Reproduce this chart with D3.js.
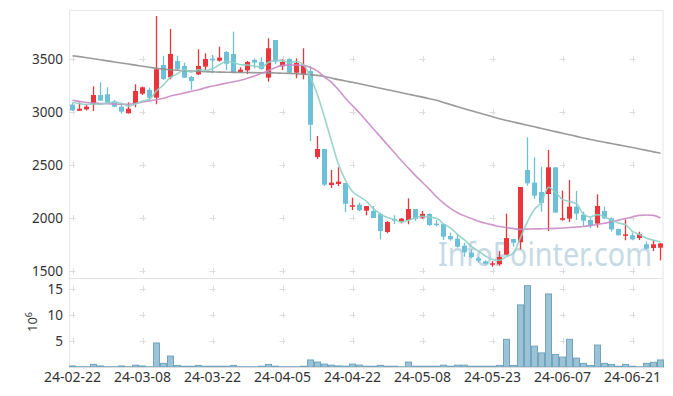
<!DOCTYPE html>
<html>
<head>
<meta charset="utf-8">
<script src="https://cdn.jsdelivr.net/npm/d3@7"></script>
<style>
  body { margin: 0; background: #fff; }
  svg text { font-family: "Noto Sans", "DejaVu Sans", sans-serif; }
</style>
</head>
<body>
<svg id="chart"></svg>
<script>
// trading days (yy-mm-dd)
const dates = [
  "24-02-22","24-02-23","24-02-26","24-02-27","24-02-28","24-02-29","24-03-04","24-03-05","24-03-06","24-03-07",
  "24-03-08","24-03-11","24-03-12","24-03-13","24-03-14","24-03-15","24-03-18","24-03-19","24-03-20","24-03-21",
  "24-03-22","24-03-25","24-03-26","24-03-27","24-03-28","24-03-29","24-04-01","24-04-02","24-04-03","24-04-04",
  "24-04-05","24-04-08","24-04-09","24-04-11","24-04-12","24-04-15","24-04-16","24-04-17","24-04-18","24-04-19",
  "24-04-22","24-04-23","24-04-24","24-04-25","24-04-26","24-04-29","24-04-30","24-05-02","24-05-03","24-05-07",
  "24-05-08","24-05-09","24-05-10","24-05-13","24-05-14","24-05-16","24-05-17","24-05-20","24-05-21","24-05-22",
  "24-05-23","24-05-24","24-05-27","24-05-28","24-05-29","24-05-30","24-05-31","24-06-03","24-06-04","24-06-05",
  "24-06-07","24-06-10","24-06-11","24-06-12","24-06-13","24-06-14","24-06-17","24-06-18","24-06-19","24-06-20",
  "24-06-21","24-06-24","24-06-25","24-06-26","24-06-27"
];

const opens = [
  3070,3012,3025,3073,3160,3167,3100,3050,2988,3082,
  3173,3208,3135,3443,3327,3481,3434,3330,3355,3428,
  3503,3484,3566,3547,3377,3393,3491,3472,3324,3679,
  3431,3500,3371,3355,3387,2575,2651,2311,2321,2330,
  2107,2126,2069,2066,2038,1868,1991,1969,1981,2085,
  2003,2038,1947,1943,1830,1805,1739,1673,1620,1591,
  1560,1563,1655,1802,1771,2453,2333,2245,2226,2478,
  1988,1994,2107,2031,1981,1947,2066,1997,1896,1837,
  1837,1811,1752,1717,1720
];
const highs = [
  3090,3091,3073,3242,3280,3233,3113,3073,3091,3261,
  3240,3230,3906,3530,3783,3531,3465,3340,3591,3553,
  3538,3616,3575,3758,3422,3481,3506,3516,3695,3679,
  3497,3506,3506,3601,3434,2774,2651,2453,2478,2330,
  2192,2145,2113,2113,2050,1972,2025,2000,2186,2085,
  2066,2045,1981,1943,1862,1849,1767,1705,1635,1601,
  1594,1689,2041,1805,2292,2761,2573,2484,2642,2478,
  2258,2358,2255,2060,2006,2223,2107,2006,1900,1988,
  1862,1871,1777,1792,1765
];
const lows = [
  3010,3010,3015,3010,3105,3085,3044,2984,2986,3044,
  3160,3113,3073,3302,3308,3396,3321,3208,3349,3396,
  3365,3475,3396,3368,3368,3358,3412,3400,3286,3450,
  3396,3365,3318,3308,2726,2557,2302,2283,2302,2054,
  2075,2066,2025,2000,1799,1856,1943,1950,1941,1972,
  1991,1925,1922,1792,1786,1720,1635,1620,1578,1560,
  1540,1550,1648,1729,1705,2305,2179,2060,1877,2051,
  1975,1962,1981,1925,1903,1909,1990,1871,1835,1790,
  1790,1792,1705,1689,1600
];
const closes = [
  3015,3030,3050,3160,3107,3091,3050,3003,3031,3198,
  3233,3135,3403,3311,3547,3406,3324,3292,3434,3500,
  3488,3513,3456,3374,3399,3472,3465,3406,3601,3475,
  3472,3371,3462,3443,2880,2651,2314,2333,2343,2135,
  2120,2073,2113,2000,1877,1962,1975,1994,2085,1991,
  2038,1934,1938,1824,1799,1729,1676,1632,1597,1569,
  1573,1632,1811,1767,2292,2327,2211,2142,2478,2051,
  1997,2107,2041,1975,1925,2113,1997,1893,1837,1846,
  1799,1846,1711,1752,1760
];
// volume, millions of shares
const volumes = [
  0.2,0.05,0.05,0.5,0.2,0.05,0.05,0.2,0.05,0.35,
  0.2,0.05,4.6,0.7,2.1,0.3,0.15,0.15,0.3,0.15,
  0.15,0.15,0.15,0.3,0.05,0.05,0.05,0.15,0.5,0.15,
  0.05,0.05,0.05,0.15,1.35,0.95,0.55,0.35,0.2,0.15,
  0.55,0.35,0.15,0.15,0.3,0.15,0.15,0.05,0.95,0.15,
  0.15,0.15,0.15,0.35,0.15,0.35,0.35,0.15,0.15,0.15,
  0.15,0.3,5.3,0.3,11.9,15.6,4.0,2.7,14.0,2.4,
  1.9,5.3,1.7,0.7,0.3,4.2,0.7,0.5,0.15,0.5,
  0.15,0.05,0.7,0.9,1.35
];
const ma5 = [
  3090,3080,3070,3075,3072,3088,3092,3082,3056,3075,
  3103,3120,3200,3256,3326,3360,3398,3376,3401,3391,
  3408,3445,3478,3466,3446,3443,3433,3423,3469,3484,
  3484,3465,3476,3445,3326,3161,2950,2724,2504,2355,
  2249,2201,2157,2088,2037,2005,1985,1962,1979,2001,
  2017,2008,1997,1945,1907,1845,1793,1732,1687,1641,
  1609,1601,1636,1670,1815,1966,2082,2148,2290,2242,
  2176,2155,2135,2034,2009,2032,2010,1981,1953,1937,
  1874,1844,1808,1791,1774
];
const ma20 = [
  3110,3100,3090,3085,3080,3078,3075,3073,3073,3080,
  3095,3105,3115,3130,3150,3165,3180,3195,3210,3228,
  3245,3258,3272,3285,3300,3318,3340,3365,3390,3420,
  3440,3442,3443,3440,3420,3385,3330,3280,3210,3130,
  3060,2990,2915,2840,2765,2690,2615,2540,2470,2400,
  2335,2270,2200,2140,2090,2050,2020,1995,1970,1950,
  1935,1920,1910,1900,1893,1895,1897,1898,1900,1902,
  1905,1910,1915,1920,1928,1938,1950,1965,1980,1995,
  2010,2025,2028,2025,2000
];
const ma120 = [
  3531,3522,3512,3502,3492,3482,3472,3462,3452,3442,
  3432,3422,3412,3404,3398,3393,3389,3386,3383,3380,
  3378,3376,3375,3374,3373,3372,3371,3370,3369,3368,
  3366,3364,3361,3357,3352,3345,3335,3320,3305,3292,
  3280,3266,3252,3238,3224,3210,3196,3182,3168,3154,
  3140,3125,3110,3090,3070,3050,3030,3011,2992,2974,
  2955,2937,2920,2905,2890,2875,2860,2845,2830,2815,
  2800,2785,2770,2755,2740,2727,2715,2702,2690,2677,
  2665,2651,2638,2624,2610
];
const tickDates = ["24-02-22","24-03-08","24-03-22","24-04-05","24-04-22","24-05-08","24-05-23","24-06-07","24-06-21"];
const priceTicks = [1500, 2000, 2500, 3000, 3500];
const volumeTicks = [5, 10, 15];

const WIDTH = 673;
const HEIGHT = 396;
const PLOT = { left: 69, right: 664, top: 10, split: 278, bottom: 367 };
const UP_COLOR = "#e9353b";
const DOWN_COLOR = "#6cc1d9";

const candles = dates.map((d, i) => ({
  date: d,
  open: opens[i],
  high: highs[i],
  low: lows[i],
  close: closes[i],
  volume: volumes[i],
}));

const svg = d3.select("#chart").attr("width", WIDTH).attr("height", HEIGHT);

const x = d3.scaleBand().domain(dates).range([PLOT.left, PLOT.right]).padding(0);
const cx = (d) => x(d) + x.bandwidth() / 2;
const yPrice = d3.scaleLinear().domain([1434, 3962]).range([PLOT.split, PLOT.top]);
const yVol = d3.scaleLinear().domain([0, 17.06]).range([PLOT.bottom, PLOT.split]);

// frame
svg.append("rect")
  .attr("x", PLOT.left + 0.5).attr("y", PLOT.top + 0.5)
  .attr("width", PLOT.right - PLOT.left - 1.5)
  .attr("height", PLOT.bottom - PLOT.top)
  .attr("fill", "none").attr("stroke", "#e6e6e6");
svg.append("line")
  .attr("x1", PLOT.left).attr("x2", PLOT.right - 1)
  .attr("y1", PLOT.split + 0.5).attr("y2", PLOT.split + 0.5)
  .attr("stroke", "#e3e3e3");

// little "+" marks at the grid crossings
const crossPts = [];
tickDates.forEach((d) => {
  priceTicks.forEach((v) => crossPts.push([cx(d), yPrice(v)]));
  volumeTicks.forEach((v) => crossPts.push([cx(d), yVol(v)]));
});
const crosses = svg.append("g").attr("class", "grid").attr("stroke", "#dcdcdc").attr("stroke-width", 1);
crosses.selectAll("path").data(crossPts).enter().append("path")
  .attr("d", (p) => "M" + (p[0] - 3) + "," + (Math.round(p[1]) + 0.5) + "h6M" + (Math.round(p[0]) + 0.5) + "," + (p[1] - 3) + "v6");

// watermark (squeezed horizontally like the original)
svg.append("text")
  .attr("transform", "translate(438,266) scale(0.87,1)")
  .attr("font-size", 33)
  .attr("fill", "#c6dae5")
  .text("InfoPointer.com");

// volume bars
svg.append("g").attr("class", "volume")
  .selectAll("rect").data(candles).enter().append("rect")
  .attr("x", (d) => x(d.date) + 0.5)
  .attr("y", (d) => yVol(d.volume))
  .attr("width", x.bandwidth() - 1)
  .attr("height", (d) => yVol(0) - yVol(d.volume))
  .attr("fill", "#9cc3d5")
  .attr("stroke", "#6fa5be")
  .attr("stroke-width", 1);

svg.append("line")
  .attr("x1", PLOT.left).attr("x2", PLOT.right - 1)
  .attr("y1", PLOT.bottom + 0.5).attr("y2", PLOT.bottom + 0.5)
  .attr("stroke", "#dddddd");

// candles
const cg = svg.append("g").attr("class", "candles");
cg.selectAll("line").data(candles).enter().append("line")
  .attr("x1", (d) => cx(d.date)).attr("x2", (d) => cx(d.date))
  .attr("y1", (d) => yPrice(d.high)).attr("y2", (d) => yPrice(d.low))
  .attr("stroke", (d) => (d.close >= d.open ? UP_COLOR : DOWN_COLOR))
  .attr("stroke-width", 1.3);
cg.selectAll("rect").data(candles).enter().append("rect")
  .attr("x", (d) => cx(d.date) - 2.5)
  .attr("y", (d) => yPrice(Math.max(d.open, d.close)))
  .attr("width", 5)
  .attr("height", (d) => Math.max(1.5, Math.abs(yPrice(d.open) - yPrice(d.close))))
  .attr("fill", (d) => (d.close >= d.open ? UP_COLOR : DOWN_COLOR));

// moving averages
const maLine = (vals) =>
  d3.line().x((v, i) => cx(dates[i])).y((v) => yPrice(v)).curve(d3.curveMonotoneX)(vals);
[
  [ma120, "#8f8f8f"],
  [ma20, "#c98bc5"],
  [ma5, "#8fd0c8"],
].forEach(([vals, color]) => {
  svg.append("path")
    .attr("d", maLine(vals))
    .attr("fill", "none")
    .attr("stroke", color)
    .attr("stroke-width", 1.6)
    .attr("opacity", 0.9);
});

// axes
const yAxisP = svg.append("g")
  .attr("transform", "translate(" + PLOT.left + ",0)")
  .call(d3.axisLeft(yPrice).tickValues(priceTicks).tickFormat(d3.format("d")).tickSize(0).tickPadding(6));
const yAxisV = svg.append("g")
  .attr("transform", "translate(" + PLOT.left + ",0)")
  .call(d3.axisLeft(yVol).tickValues(volumeTicks).tickFormat(d3.format("d")).tickSize(0).tickPadding(6));
const xAxis = svg.append("g")
  .attr("transform", "translate(0," + PLOT.bottom + ")")
  .call(d3.axisBottom(x).tickValues(tickDates).tickSize(0).tickPadding(5));
[yAxisP, yAxisV, xAxis].forEach((a) => {
  a.select(".domain").remove();
  a.selectAll("text").attr("fill", "#333").style("font-family", '"Noto Sans", "DejaVu Sans", sans-serif');
});
yAxisP.selectAll("text").attr("font-size", 13.5);
yAxisV.selectAll("text").attr("font-size", 13.5);
xAxis.selectAll("text").attr("font-size", 14);

// volume unit label
const unit = svg.append("text")
  .attr("transform", "translate(37,322) rotate(-90)")
  .attr("text-anchor", "middle")
  .attr("font-size", 13)
  .attr("fill", "#333");
unit.append("tspan").text("10");
unit.append("tspan").attr("dy", -5).attr("font-size", 9).text("6");
</script>
</body>
</html>
